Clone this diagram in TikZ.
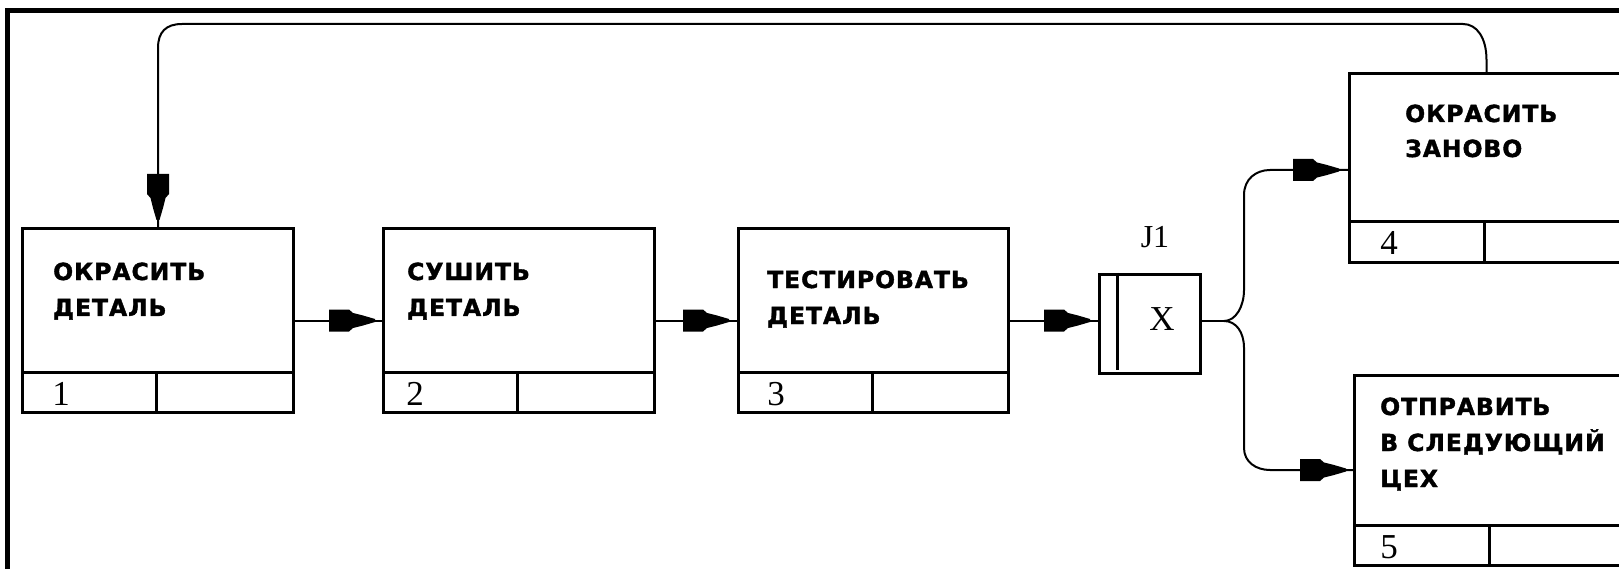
\documentclass[tikz,border=0pt]{standalone}
\usepackage{fontspec}
\usetikzlibrary{calc}
\newfontfamily\lblfont{DejaVu Sans Bold}[FakeBold=1.6,LetterSpace=4]
\newfontfamily\numfont{Liberation Serif}
\newcommand\ahead[2]{\fill[shift={(#1)},rotate=#2] (0,-1.5) -- (-12,-5) -- (-22,-7.5) -- (-26,-11) -- (-46,-11) -- (-46,11) -- (-26,11) -- (-22,7.5) -- (-12,5) -- (0,1.5) -- cycle;}
\begin{document}
\begin{tikzpicture}[x=1pt,y=-1pt,
  box/.style={draw, line width=3pt, rectangle, anchor=north west, inner sep=0pt, minimum width=271pt, minimum height=184pt},
  lbl/.style={anchor=base west, inner sep=0pt, font=\lblfont\fontsize{23.5}{24}\selectfont},
  num/.style={anchor=base, inner sep=0pt, font=\numfont\fontsize{35}{35}\selectfont},
  conn/.style={line width=2pt},
  divl/.style={line width=3pt}]
\useasboundingbox (0,0) rectangle (1619,569);
\clip (0,0) rectangle (1619,569);
\fill[white] (0,0) rectangle (1619,569);
\draw[line width=5pt] (7.5,11) rectangle (1700,700);

% boxes
\node[box] (b1) at (21,227) {};
\node[box] (b2) at (382,227) {};
\node[box, minimum width=270pt] (b3) at (737,227) {};
\node[box, minimum width=274pt, minimum height=189pt] (b4) at (1348,72) {};
\node[box, minimum width=274pt, minimum height=190pt] (b5) at (1353,374) {};
\node[draw, line width=3pt, rectangle, anchor=north west, inner sep=0pt, minimum width=101pt, minimum height=99pt] (j1) at (1098,273) {};
\draw[divl] ($(j1.north west)+(19,0)$) -- ($(j1.south west)+(19,-5)$);

% dividers
\foreach \b in {b1,b2,b3,b4,b5}{
  \draw[divl] ($(\b.south west)+(0,-42)$) -- ($(\b.south east)+(0,-42)$);
}
\foreach \b/\d in {b1/135,b2/135,b3/135,b4/136,b5/136}{
  \draw[divl] ($(\b.south west)+(\d,-42)$) -- ($(\b.south west)+(\d,0)$);
}

% labels
\node[lbl] (l1a) at (53,280) {ОКРАСИТЬ};
\node[lbl] (l1b) at (53,316) {ДЕТАЛЬ};
\node[lbl] (l2a) at (407,280) {СУШИТЬ};
\node[lbl] (l2b) at (407,316) {ДЕТАЛЬ};
\node[lbl] (l3a) at (767,288) {ТЕСТИРОВАТЬ};
\node[lbl] (l3b) at (767,324) {ДЕТАЛЬ};
\node[lbl] (l4a) at (1405,122) {ОКРАСИТЬ};
\node[lbl] (l4b) at (1405,157) {ЗАНОВО};
\node[lbl] (l5a) at (1380,415) {ОТПРАВИТЬ};
\node[lbl] (l5b) at (1380,451) {В СЛЕДУЮЩИЙ};
\node[lbl] (l5c) at (1380,487) {ЦЕХ};

% numbers
\node[num] (n1) at ($(b1.south west)+(40,-9)$) {1};
\node[num] (n2) at ($(b2.south west)+(33,-9)$) {2};
\node[num] (n3) at ($(b3.south west)+(39,-9)$) {3};
\node[num] (n4) at ($(b4.south west)+(41,-9)$) {4};
\node[num] (n5) at ($(b5.south west)+(36,-9)$) {5};

% junction labels
\node[num, font=\numfont\fontsize{32}{32}\selectfont] (jl) at (1155,248) {J1};
\node[num] (jx) at (1162,330) {X};

% straight connectors
\draw[conn] (b1.east) -- (b2.west);
\ahead{$(b2.west)+(-7,0)$}{0}
\draw[conn] (b2.east) -- (b3.west);
\ahead{$(b3.west)+(-8,0)$}{0}
\coordinate (j1in) at (b3.east -| j1.west);
\draw[conn] (b3.east) -- (j1in);
\ahead{$(j1in)+(-8,0)$}{0}

% fork
\coordinate (fk) at ($(j1.east)+(22,-3)$);
\coordinate (u1) at (1244,290);
\coordinate (u2) at (1244,195);
\coordinate (u3) at (1270,170);
\coordinate (u4) at (u3 -| b4.west);
\coordinate (d1) at (1244,348);
\coordinate (d2) at (1244,448);
\coordinate (d3) at (1270,470);
\coordinate (d4) at (d3 -| b5.west);
\draw[conn] (j1.east |- fk) -- (fk);
\draw[conn] (fk) .. controls +(12,0) and +(0,16) .. (u1) -- (u2) .. controls +(0,-16) and +(-14,0) .. (u3) -- (u4);
\draw[conn] (fk) .. controls +(12,0) and +(0,-16) .. (d1) -- (d2) .. controls +(0,14) and +(-14,0) .. (d3) -- (d4);
\ahead{$(u4)+(-9,0)$}{0}
\ahead{$(d4)+(-7,0)$}{0}

% feedback loop
\coordinate (fbR) at ($(b4.north)+(0,-12)$);
\coordinate (fbL) at ($(b1.north)+(0,-179)$);
\coordinate (top1) at (1463,24);
\coordinate (top2) at (182,24);
\draw[conn] (b4.north) -- (fbR) .. controls +(0,-22) and +(14,0) .. (top1) -- (top2) .. controls +(-16,0) and +(0,-16) .. (fbL) -- (b1.north);
\ahead{$(b1.north)+(0,-7)$}{-90}
\end{tikzpicture}
\end{document}
